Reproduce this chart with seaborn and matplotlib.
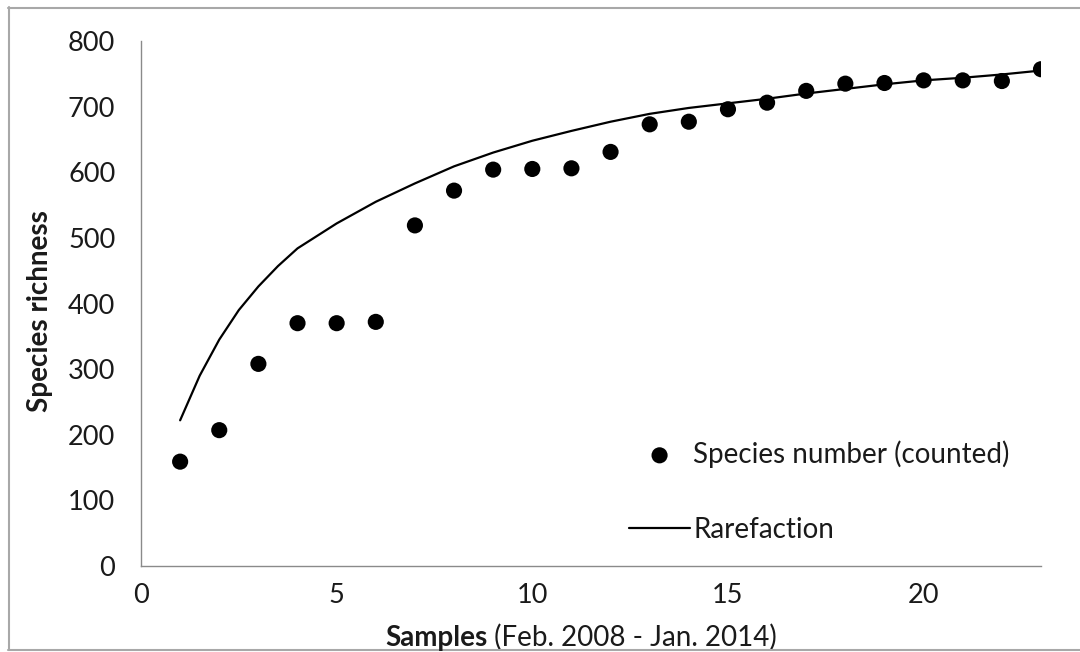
import matplotlib
matplotlib.use("Agg")
import matplotlib.pyplot as plt
import seaborn as sns
import pandas as pd
from matplotlib.lines import Line2D

# ---- data ----
samples = list(range(1, 24))
species_counted = [159, 207, 308, 370, 370, 372, 519, 572, 604, 605, 606, 631,
                   673, 677, 696, 706, 724, 735, 736, 740, 740, 739, 757]

rare_x = [1, 1.5, 2, 2.5, 3, 3.5, 4, 5, 6, 7, 8, 9, 10, 11, 12, 13, 14, 15,
          16, 17, 18, 19, 20, 21, 22, 23]
rare_y = [222, 290, 345, 390, 426, 457, 484, 522, 555, 583, 609, 630, 648, 663,
          677, 689, 698, 705, 712, 720, 727, 734, 740, 744, 749, 755]

x_ticks = [0, 5, 10, 15, 20]
y_ticks = [0, 100, 200, 300, 400, 500, 600, 700, 800]

label_points = "Species number (counted)"
label_line = "Rarefaction"
ylabel = "Species richness"
xlabel_bold = "Samples"
xlabel_rest = " (Feb. 2008 - Jan. 2014)"

df_pts = pd.DataFrame({"x": samples, "y": species_counted})
df_line = pd.DataFrame({"x": rare_x, "y": rare_y})

sns.set_theme(style="white")
plt.rcParams["font.family"] = ["Lato", "DejaVu Sans"]

W, H = 1080, 652
fig = plt.figure(figsize=(W / 100, H / 100), dpi=100)
ax = fig.add_axes([141 / W, 1 - 566 / H, (1041 - 141) / W, (566 - 41) / H])

sns.scatterplot(data=df_pts, x="x", y="y", ax=ax, color="black", s=135,
                edgecolor="none", label=label_points, zorder=3)
sns.lineplot(data=df_line, x="x", y="y", ax=ax, color="black", linewidth=1.6,
             label=label_line, zorder=2)

ax.set_xlim(0, 23)
ax.set_ylim(0, 800)
ax.set_xticks(x_ticks)
ax.set_yticks(y_ticks)
ax.set_xticklabels([str(v) for v in x_ticks])
ax.set_yticklabels([str(v) for v in y_ticks])

for side in ["top", "right"]:
    ax.spines[side].set_visible(False)
for side in ["left", "bottom"]:
    ax.spines[side].set_color("#8a8a8a")
    ax.spines[side].set_linewidth(1.0)

ax.tick_params(axis="both", which="major", direction="out", length=7.5,
               width=1.0, color="#8a8a8a", labelsize=19.5, labelcolor="#1a1a1a")
ax.tick_params(axis="y", pad=11)
ax.tick_params(axis="x", pad=5)

ax.set_xlabel("")
ax.set_ylabel(ylabel, fontsize=20, fontweight="bold", color="#1a1a1a")
ax.yaxis.set_label_coords((53 - 141) / 900, (566 - 311) / 525)

t1 = fig.text(385 / W, 1 - 646 / H, xlabel_bold, fontsize=20, fontweight="bold",
              color="#1a1a1a", ha="left", va="baseline")
ax.annotate(xlabel_rest, xy=(1, 0), xycoords=t1, ha="left", va="bottom",
            fontsize=20, color="#1a1a1a", annotation_clip=False)

handles, labels = ax.get_legend_handles_labels()
order = [labels.index(label_points), labels.index(label_line)]
leg = ax.legend([handles[i] for i in order], [labels[i] for i in order],
                loc="upper left", bbox_to_anchor=(629 / W, 1 - 440 / H),
                bbox_transform=fig.transFigure, frameon=False, fontsize=20,
                handlelength=2.2, handletextpad=0.12, labelspacing=1.78,
                borderpad=0, borderaxespad=0)
for txt in leg.get_texts():
    txt.set_color("#1a1a1a")

# outer gray frame of the picture
border_kw = dict(color="#a8a8a8", linewidth=1.5, transform=fig.transFigure)
fig.add_artist(Line2D([8 / W, 1], [1 - 7.5 / H, 1 - 7.5 / H], **border_kw))
fig.add_artist(Line2D([8.5 / W, 8.5 / W], [1 - 7 / H, 1 - 650 / H], **border_kw))
fig.add_artist(Line2D([8 / W, 1], [1 - 650 / H, 1 - 650 / H], **border_kw))

fig.savefig("out.png", dpi=100, facecolor="white")
